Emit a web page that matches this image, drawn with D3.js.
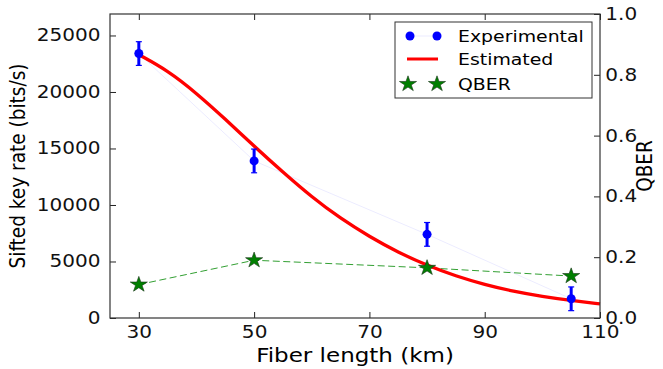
<html>
<head>
<meta charset="utf-8">
<title>Sifted key rate vs fiber length</title>
<style>
  body { margin: 0; background: #fff; }
  text { font-family: "DejaVu Sans", sans-serif; }
</style>
</head>
<body>
<script src="https://cdn.jsdelivr.net/npm/d3@7"></script>
<script>
// measured points
var expLength = [30, 50, 80, 105];
var expRate   = [23400, 13900, 7400, 1700];
var expErr    = [1050, 1050, 1050, 1050];

// QBER (right axis)
var qberValue = [0.11, 0.19, 0.165, 0.138];

// estimated curve
var estLength = [30, 35, 40, 45, 50, 55, 60, 65, 70, 75, 80, 85, 90, 95, 100, 105, 110];
var estRate   = [23300, 21900, 19900, 17600, 15200, 12900, 10700, 8800, 7200, 5800, 4650, 3700, 2950, 2350, 1900, 1550, 1250];

var xTicks = [30, 50, 70, 90, 110];
var yTicks = [0, 5000, 10000, 15000, 20000, 25000];
var qTicks = [0, 0.2, 0.4, 0.6, 0.8, 1.0];

var width = 663, height = 369;
var margin = {top: 14, right: 63, bottom: 51, left: 110};
var sx = 1.18;   // the original text looks stretched sideways

var svg = d3.select("body").append("svg")
    .attr("width", width)
    .attr("height", height);

var x = d3.scaleLinear().domain([25, 110]).range([margin.left, width - margin.right]);
var y = d3.scaleLinear().domain([0, 26900]).range([height - margin.bottom, margin.top]);
var yq = d3.scaleLinear().domain([0, 1]).range([height - margin.bottom, margin.top]);

var plotW = width - margin.left - margin.right;
var plotH = height - margin.top - margin.bottom;

// axes (ticks pointing inward like matplotlib)
function styleAxis(g) {
  g.select(".domain").remove();
  g.selectAll(".tick line").attr("stroke", "#222");
  g.selectAll(".tick text").attr("fill", "#111").style("font-size", "17px")
    .style("font-family", "DejaVu Sans, sans-serif")
    .attr("transform", "scale(" + sx + ",1)");
}

svg.append("g")
    .attr("transform", "translate(0," + (height - margin.bottom) + ")")
    .call(d3.axisBottom(x).tickValues(xTicks).tickSize(-6).tickPadding(8).tickFormat(d3.format("d")))
    .call(styleAxis);

svg.append("g")
    .attr("transform", "translate(0," + margin.top + ")")
    .call(d3.axisTop(x).tickValues(xTicks).tickSize(-6).tickFormat(""))
    .call(styleAxis);

svg.append("g")
    .attr("transform", "translate(" + margin.left + ",0)")
    .call(d3.axisLeft(y).tickValues(yTicks).tickSize(-6).tickPadding(8).tickFormat(d3.format("d")))
    .call(styleAxis);

svg.append("g")
    .attr("transform", "translate(" + (width - margin.right) + ",0)")
    .call(d3.axisRight(yq).tickValues(qTicks).tickSize(-6).tickPadding(4.5).tickFormat(d3.format(".1f")))
    .call(styleAxis);

// faint line through the experimental points
var expPts = expLength.map(function(d, i) { return [d, expRate[i]]; });
svg.append("path")
    .datum(expPts)
    .attr("fill", "none")
    .attr("stroke", "#0000ff")
    .attr("stroke-opacity", 0.08)
    .attr("stroke-width", 1)
    .attr("d", d3.line().x(function(d) { return x(d[0]); }).y(function(d) { return y(d[1]); }));

// QBER dashed line
var qPts = expLength.map(function(d, i) { return [d, qberValue[i]]; });
svg.append("path")
    .datum(qPts)
    .attr("fill", "none")
    .attr("stroke", "#33a033")
    .attr("stroke-width", 1)
    .attr("stroke-dasharray", "7,3.5")
    .attr("d", d3.line().x(function(d) { return x(d[0]); }).y(function(d) { return yq(d[1]); }));

// estimated curve
var estPts = estLength.map(function(d, i) { return [d, estRate[i]]; });
svg.append("path")
    .datum(estPts)
    .attr("fill", "none")
    .attr("stroke", "#ff0000")
    .attr("stroke-width", 3.3)
    .attr("d", d3.line().curve(d3.curveBasis)
        .x(function(d) { return x(d[0]); }).y(function(d) { return y(d[1]); }));

// error bars
var eb = svg.append("g").selectAll("g").data(expPts).enter().append("g");
eb.append("line")
    .attr("x1", function(d) { return x(d[0]); })
    .attr("x2", function(d) { return x(d[0]); })
    .attr("y1", function(d, i) { return y(d[1] - expErr[i]); })
    .attr("y2", function(d, i) { return y(d[1] + expErr[i]); })
    .attr("stroke", "#0000ff").attr("stroke-width", 3);
[-1, 1].forEach(function(s) {
  eb.append("line")
      .attr("x1", function(d) { return x(d[0]) - 3; })
      .attr("x2", function(d) { return x(d[0]) + 3; })
      .attr("y1", function(d, i) { return y(d[1] + s * expErr[i]); })
      .attr("y2", function(d, i) { return y(d[1] + s * expErr[i]); })
      .attr("stroke", "#0000ff").attr("stroke-width", 1.2);
});
eb.append("circle")
    .attr("cx", function(d) { return x(d[0]); })
    .attr("cy", function(d) { return y(d[1]); })
    .attr("r", 4.5)
    .attr("fill", "#0000ff");

// QBER stars
var star = d3.symbol().type(d3.symbolStar).size(75);
svg.append("g").selectAll("path").data(qPts).enter().append("path")
    .attr("d", star)
    .attr("transform", function(d) { return "translate(" + x(d[0]) + "," + yq(d[1]) + ") scale(1.1,1)"; })
    .attr("fill", "#007f00")
    .attr("stroke", "#1a3a1a")
    .attr("stroke-width", 0.6);

// frame
svg.append("rect")
    .attr("x", margin.left).attr("y", margin.top)
    .attr("width", plotW).attr("height", plotH)
    .attr("fill", "none").attr("stroke", "#333").attr("stroke-width", 1.2);

// axis labels
svg.append("text")
    .attr("transform", "translate(" + x(67.5) + ",362) scale(" + sx + ",1)")
    .attr("text-anchor", "middle")
    .style("font-size", "19.5px")
    .text("Fiber length (km)");

svg.append("text")
    .attr("transform", "translate(25," + (margin.top + plotH / 2) + ") scale(" + sx + ",1) rotate(-90)")
    .attr("text-anchor", "middle")
    .style("font-size", "18.5px")
    .text("Sifted key rate (bits/s)");

svg.append("text")
    .attr("transform", "translate(652," + (margin.top + plotH / 2) + ") scale(" + sx + ",1) rotate(-90)")
    .attr("text-anchor", "middle")
    .style("font-size", "18.5px")
    .text("QBER");

// legend
var lg = svg.append("g").attr("transform", "translate(395,22)");
lg.append("rect").attr("width", 197).attr("height", 76)
    .attr("fill", "#fff").attr("stroke", "#333").attr("stroke-width", 1);
var rows = [14, 37, 62];
lg.append("line").attr("x1", 15).attr("x2", 42).attr("y1", rows[0]).attr("y2", rows[0])
    .attr("stroke", "#0000ff").attr("stroke-opacity", 0.08);
[15, 42].forEach(function(cx) {
  lg.append("circle").attr("cx", cx).attr("cy", rows[0]).attr("r", 4.5).attr("fill", "#0000ff");
});
lg.append("line").attr("x1", 12).attr("x2", 43).attr("y1", rows[1]).attr("y2", rows[1])
    .attr("stroke", "#ff0000").attr("stroke-width", 3);
[13, 42].forEach(function(cx) {
  lg.append("path").attr("d", star)
      .attr("transform", "translate(" + cx + "," + rows[2] + ") scale(1.1,1)")
      .attr("fill", "#007f00").attr("stroke", "#1a3a1a").attr("stroke-width", 0.6);
});
var labels = ["Experimental", "Estimated", "QBER"];
lg.selectAll("text.lab").data(labels).enter().append("text")
    .attr("class", "lab")
    .attr("transform", function(d, i) { return "translate(63," + (rows[i] + 6) + ") scale(" + sx + ",1)"; })
    .style("font-size", "16px")
    .text(function(d) { return d; });
</script>
</body>
</html>
